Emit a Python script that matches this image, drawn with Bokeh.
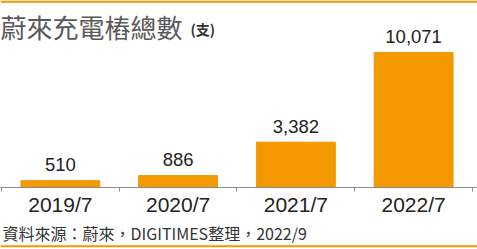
from bokeh.plotting import figure
from bokeh.models import Range1d, FixedTicker, Label, ColumnDataSource
from bokeh.layouts import column
from bokeh.embed import file_html
from bokeh.resources import INLINE
from bokeh.core.properties import value

categories = ["2019/7", "2020/7", "2021/7", "2022/7"]
counts = [510, 886, 3382, 10071]
count_labels = ["510", "886", "3,382", "10,071"]

title_text = "蔚來充電樁總數"
unit_text = "(支)"
source_text = "資料來源：蔚來，DIGITIMES整理，2022/9"

ORANGE = "#F39800"
X0, X1 = -0.5085, len(categories) - 0.4575
Y_MAX = 13950
FRAME_H = 187

xs = list(range(len(categories)))
src = ColumnDataSource(dict(x=xs, top=counts, label=count_labels))

# main chart
p = figure(width=477, height=222, output_backend="svg", toolbar_location=None,
           x_range=Range1d(X0, X1), y_range=Range1d(0, Y_MAX),
           min_border_left=0, min_border_right=0, min_border_top=0, min_border_bottom=35)
p.background_fill_color = "white"
p.border_fill_color = "white"
p.outline_line_color = None
p.grid.visible = False
p.yaxis.visible = False

p.vbar(x="x", top="top", bottom=0, width=0.67, color=ORANGE, source=src)
p.text(x="x", y="top", text="label", text_align="center", text_baseline="alphabetic",
       y_offset=-16, text_font=value("Liberation Sans"), text_font_size="18.5px",
       text_color="#222222", source=src)

# orange rule along the top edge
p.quad(left=[X0], right=[X1], top=[Y_MAX], bottom=[Y_MAX * (1 - 2.3 / FRAME_H)],
       fill_color=ORANGE, line_color=None)

ax = p.xaxis[0]
ax.ticker = FixedTicker(ticks=xs, minor_ticks=[i - 0.5 for i in range(len(categories) + 1)])
ax.major_label_overrides = {i: c for i, c in enumerate(categories)}
ax.axis_line_color = "#8c8c8c"
ax.axis_line_width = 1
ax.major_tick_line_color = None
ax.major_tick_in = 0
ax.major_tick_out = 0
ax.minor_tick_line_color = "#8c8c8c"
ax.minor_tick_in = 0
ax.minor_tick_out = 4
ax.major_label_text_font = "Liberation Sans"
ax.major_label_text_font_size = "21px"
ax.major_label_text_color = "#222222"
ax.major_label_standoff = 1

p.add_layout(Label(x=0, y=161.5, x_units="screen", y_units="screen", text=title_text,
                   text_font="Noto Sans CJK TC", text_font_size="26px",
                   text_color="#595959", text_baseline="alphabetic"))
p.add_layout(Label(x=190, y=158.5, x_units="screen", y_units="screen", text=unit_text,
                   text_font="Noto Sans CJK TC", text_font_size="14px", text_font_style="bold",
                   text_color="#333333", text_baseline="alphabetic"))

# footer strip with source note and bottom rule
FOOT_H = 27
f = figure(width=477, height=FOOT_H, output_backend="svg", toolbar_location=None,
           x_range=Range1d(0, 477), y_range=Range1d(0, FOOT_H),
           min_border_left=0, min_border_right=0, min_border_top=0, min_border_bottom=0)
f.axis.visible = False
f.grid.visible = False
f.outline_line_color = None
f.background_fill_color = "white"
f.border_fill_color = "white"
f.add_layout(Label(x=2, y=17, x_units="screen", y_units="screen", text=source_text,
                   text_font="Noto Sans CJK TC", text_font_size="16px",
                   text_color="#333333", text_baseline="alphabetic"))
f.quad(left=[0], right=[477], top=[4.2], bottom=[2.2], fill_color=ORANGE, line_color=None)

layout = column(p, f, spacing=0)
open("out.html", "w").write(file_html(layout, INLINE))
